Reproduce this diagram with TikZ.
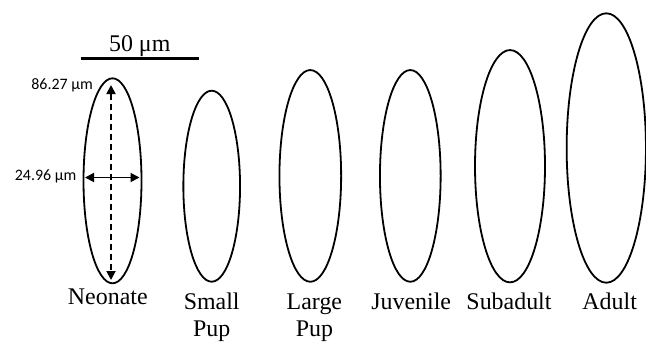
\documentclass[tikz,border=0pt]{standalone}
\usepackage{fontspec}
\setmainfont{Liberation Serif}
\newfontfamily\measfont{Carlito}
\usetikzlibrary{shapes.geometric,arrows.meta}
\begin{document}
\begin{tikzpicture}[x=1bp,y=-1bp,
  cell/.style={draw=black,line width=1.8bp,ellipse,inner sep=0pt},
  lab/.style={font=\fontsize{24}{27.7}\selectfont,align=center,anchor=base,inner sep=0pt},
  meas/.style={font=\measfont\fontsize{16}{18}\selectfont,inner sep=0pt},
  arr/.style={line width=1.8bp,{Triangle[length=9bp,width=9bp]}-{Triangle[length=9bp,width=9bp]}}]
\useasboundingbox (0,0) rectangle (646,341);
% cells
\node[cell,minimum width=58bp,minimum height=205bp] (neo) at (112.5,180.8) {};
\node[cell,minimum width=56.7bp,minimum height=191bp] (sp) at (211.7,186.2) {};
\node[cell,minimum width=61.7bp,minimum height=211.7bp] (lp) at (310.3,175.9) {};
\node[cell,minimum width=60.7bp,minimum height=211.7bp] (juv) at (410.3,175.9) {};
\node[cell,minimum width=70bp,minimum height=232.3bp] (sub) at (510,166.2) {};
\node[cell,minimum width=79.3bp,minimum height=269.4bp] (ad) at (606.3,148) {};
% scale bar
\coordinate (sbl) at (80.5,58.5);
\coordinate (sbr) at (198.5,58.5);
\draw[line width=3bp] (sbl) -- (sbr);
\node[lab] (sbt) at (139.7,51.7) {50 μm};
% neonate measurements
\coordinate (vt) at (111,85);
\coordinate (vb) at (111,280);
\coordinate (hl) at (85,177.5);
\coordinate (hr) at (139.5,177.5);
\draw[arr,dash pattern=on 6bp off 4bp] (vt) -- (vb);
\draw[arr] (hl) -- (hr);
\node[meas,anchor=east] (lenlab) at (93,85.7) {86.27 μm};
\node[meas,anchor=east] (widlab) at (76.5,176) {24.96 μm};
% labels
\node[lab] (l1) at (107.8,304.3) {Neonate};
\node[lab] (l2) at (211.7,336.7) {Small\\Pup};
\node[lab] (l3) at (314.4,336.7) {Large\\Pup};
\node[lab] (l4) at (411.2,309) {Juvenile};
\node[lab] (l5) at (509,309) {Subadult};
\node[lab] (l6) at (609.7,309) {Adult};
\end{tikzpicture}
\end{document}
